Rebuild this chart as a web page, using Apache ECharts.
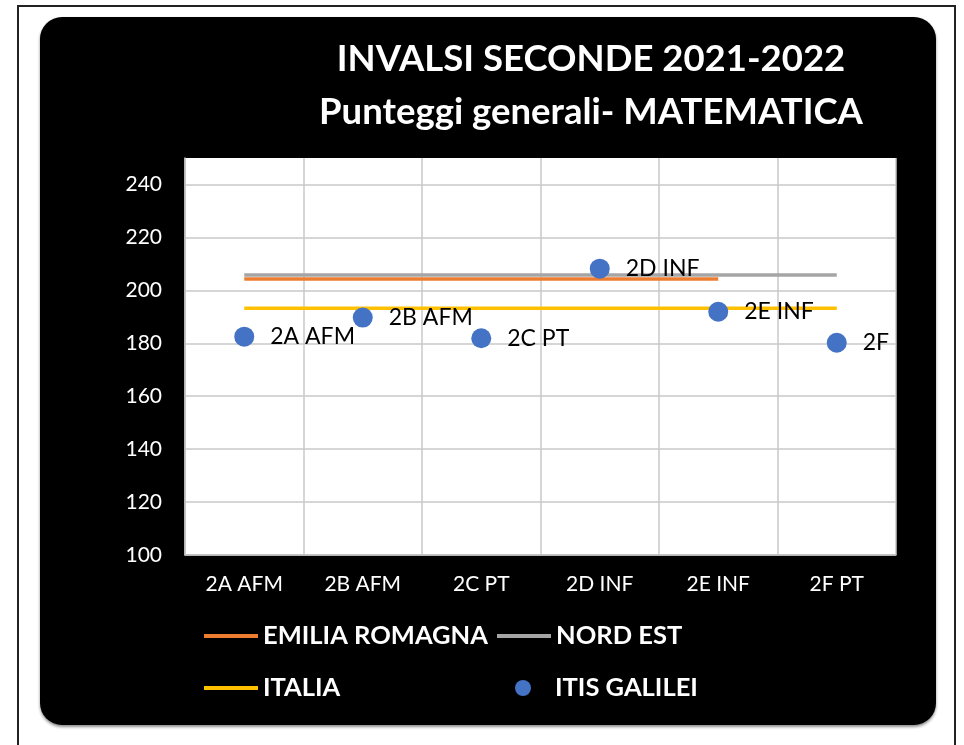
<!DOCTYPE html>
<html>
<head>
<meta charset="utf-8">
<script src="https://cdn.jsdelivr.net/npm/echarts@6/dist/echarts.min.js"></script>
<style>
  html, body { margin: 0; padding: 0; background: #fff; }
  #chart { width: 964px; height: 745px; }
</style>
</head>
<body>
<div id="chart"></div>
<script>
// ---- data ----
const categories = ['2A AFM', '2B AFM', '2C PT', '2D INF', '2E INF', '2F PT'];
const emiliaRomagna = [204.3, 204.3, 204.3, 204.3, 204.3];
const nordEst = [205.8, 205.8, 205.8, 205.8, 205.8, 205.8];
const italia = [193.2, 193.2, 193.2, 193.2, 193.2, 193.2];
const itisGalilei = [182.5, 189.7, 181.9, 208.2, 191.9, 180.2];
const titleLines = ['INVALSI SECONDE 2021-2022', 'Punteggi generali- MATEMATICA'];
const seriesNames = ['EMILIA ROMAGNA', 'NORD EST', 'ITALIA', 'ITIS GALILEI'];

const FONT = 'Lato';
const chart = echarts.init(document.getElementById('chart'), null, { renderer: 'canvas' });

const legendText = { color: '#fff', fontFamily: FONT, fontWeight: 'bold', fontSize: 25.5, lineHeight: 28 };

function lineLegend(name, left, top) {
  return {
    data: [name], left: left, top: top, padding: 0,
    icon: 'rect', itemWidth: 54, itemHeight: 4,
    textStyle: legendText
  };
}

const option = {
  backgroundColor: '#fff',
  animation: false,
  graphic: [
    { type: 'rect', z: -10, shape: { x: 18, y: 6, width: 937, height: 760 },
      style: { fill: '#fff', stroke: '#222', lineWidth: 2 } },
    { type: 'rect', z: -9, shape: { x: 40, y: 17, width: 896, height: 708, r: 22 },
      style: { fill: '#000', shadowColor: 'rgba(0,0,0,0.45)', shadowBlur: 3, shadowOffsetY: 2 } },
    { type: 'rect', z: 100, shape: { x: 897, y: 325, width: 38, height: 40 },
      style: { fill: '#000' } }
  ],
  title: {
    text: titleLines.join('\n'),
    left: 586, top: 28, textAlign: 'center',
    textStyle: { color: '#fff', fontFamily: FONT, fontWeight: 'bold', fontSize: 36.5, lineHeight: 53 }
  },
  legend: [
    lineLegend(seriesNames[0], 204, 622),
    lineLegend(seriesNames[1], 497, 622),
    lineLegend(seriesNames[2], 204, 674),
    {
      data: [seriesNames[3]], left: 515, top: 674, padding: 0,
      icon: 'circle', itemWidth: 54, itemHeight: 16,
      textStyle: legendText
    }
  ],
  grid: {
    left: 185, right: 68, top: 158, bottom: 190,
    show: true, backgroundColor: '#fff', borderWidth: 0
  },
  xAxis: {
    type: 'category', data: categories, boundaryGap: true,
    axisLine: { show: true, lineStyle: { color: '#BFBFBF', width: 1.5 } },
    axisTick: { show: false },
    splitLine: { show: true, lineStyle: { color: '#C8C8C8', width: 1.5 } },
    axisLabel: { color: '#fff', fontFamily: FONT, fontSize: 21, margin: 19 }
  },
  yAxis: {
    type: 'value', min: 100, max: 250, interval: 20,
    axisLine: { show: true, lineStyle: { color: '#BFBFBF', width: 1.5 } },
    axisTick: { show: false },
    splitLine: { show: true, showMaxLine: false, lineStyle: { color: '#C8C8C8', width: 1.5 } },
    axisLabel: { color: '#fff', fontFamily: FONT, fontSize: 21, margin: 23, showMaxLabel: false }
  },
  series: [
    { name: seriesNames[0], type: 'line', data: emiliaRomagna, symbol: 'none', showSymbol: false,
      itemStyle: { color: '#ED7D31' }, lineStyle: { color: '#ED7D31', width: 3.5 }, z: 2 },
    { name: seriesNames[1], type: 'line', data: nordEst, symbol: 'none', showSymbol: false,
      itemStyle: { color: '#A5A5A5' }, lineStyle: { color: '#A5A5A5', width: 3.5 }, z: 1 },
    { name: seriesNames[2], type: 'line', data: italia, symbol: 'none', showSymbol: false,
      itemStyle: { color: '#FFC000' }, lineStyle: { color: '#FFC000', width: 3.5 }, z: 2 },
    { name: seriesNames[3], type: 'scatter', data: itisGalilei, symbol: 'circle', symbolSize: 20,
      itemStyle: { color: '#4472C4', opacity: 1 }, z: 3,
      label: { show: true, position: 'right', distance: 16, formatter: '{b}',
        color: '#000', fontFamily: FONT, fontSize: 23 } }
  ]
};
chart.setOption(option);
</script>
</body>
</html>
